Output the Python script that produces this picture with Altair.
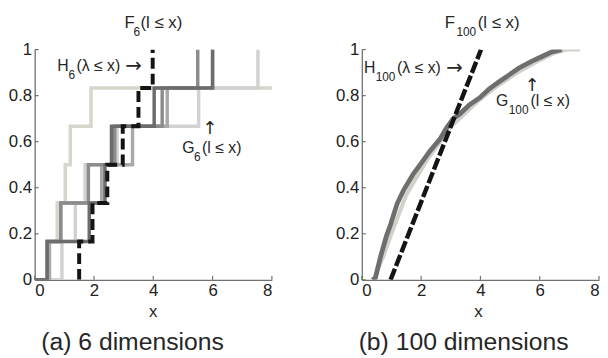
import altair as alt
import pandas as pd

FONT = "Liberation Sans"
ARROW_FONT = "DejaVu Sans"
W, H = 240, 233
TXT = "#262626"

# ---------------- data: panel (a), 6 dimensions ----------------
# x positions where each empirical CDF steps up (levels 1/6 ... 1)
a_order = ["beige", "light", "grayB", "grayA", "dark"]
a_steps = {
    "beige": [0.45, 0.76, 1.03, 1.20, 1.90, 9.00],
    "light": [0.92, 1.37, 1.70, 2.78, 5.53, 7.53],
    "grayB": [0.50, 0.88, 2.26, 3.30, 4.47, 6.00],
    "grayA": [0.42, 0.88, 1.81, 2.70, 4.30, 5.50],
    "dark":  [0.42, 1.84, 2.37, 2.59, 4.03, 6.00],
}
a_colors = {
    "beige": "#d8d5cd",
    "light": "#d2d2d2",
    "grayB": "#a9a9a9",
    "grayA": "#8c8c8c",
    "dark":  "#6c6c6c",
}
h6_steps = [1.50, 1.95, 2.45, 2.97, 3.50, 3.98]

# ---------------- data: panel (b), 100 dimensions ----------------
g100_dark_x = [0.36, 0.46, 0.63, 0.83, 0.97, 1.19, 1.41, 1.74, 1.97, 2.30, 2.63, 2.86,
               3.08, 3.30, 3.63, 3.97, 4.30, 4.63, 4.97, 5.30, 5.74, 6.08, 6.41, 6.74]
g100_dark_y = [0.00, 0.01, 0.10, 0.19, 0.24, 0.33, 0.39, 0.46, 0.50, 0.56, 0.61, 0.66,
               0.70, 0.72, 0.76, 0.79, 0.83, 0.86, 0.89, 0.92, 0.95, 0.97, 0.99, 1.00]
g100_light_x = [0.40, 0.72, 0.97, 1.50, 2.20, 3.00, 3.95, 4.55, 5.25, 5.95, 6.50, 6.90, 7.36]
g100_light_y = [0.00, 0.10, 0.19, 0.37, 0.52, 0.665, 0.78, 0.84, 0.90, 0.95, 0.985, 1.00, 1.00]
h100_x = [0.97, 4.02]
h100_y = [0.00, 1.00]

x_ticks = [0, 2, 4, 6, 8]
y_ticks = [0, 0.2, 0.4, 0.6, 0.8, 1]

# ---------------- helpers ----------------
xscale = alt.Scale(domain=[0, 8], nice=False, zero=False)
yscale = alt.Scale(domain=[0, 1], nice=False, zero=False)
xaxis = alt.Axis(title=None, values=x_ticks, format="d")
yaxis = alt.Axis(title=None, values=y_ticks, format=".1~f")


def X(field="x"):
    return alt.X(f"{field}:Q", scale=xscale, axis=xaxis)


def Y(field="y"):
    return alt.Y(f"{field}:Q", scale=yscale, axis=yaxis)


def step_df(xs, start_zero=True):
    n = len(xs)
    px = [0.0 if start_zero else xs[0]] + list(xs)
    py = [0.0] + [(i + 1) / n for i in range(n)]
    return pd.DataFrame({"x": px, "y": py, "i": list(range(len(px)))})


def rich_text(x, y, pieces):
    """pieces: (text, dx, dy, size, align, font) anchored at data point (x, y)."""
    df = pd.DataFrame({"x": [x], "y": [y]})
    out = []
    for t, dx, dy, size, align, font in pieces:
        out.append(
            alt.Chart(df).mark_text(font=font, fontSize=size, align=align, baseline="alphabetic",
                                    color=TXT, dx=dx, dy=dy).encode(
                x=X(), y=Y(), text=alt.value(t))
        )
    return out


def pixel_text(px, py, txt, size, align="center"):
    return alt.Chart(pd.DataFrame({"d": [0]})).mark_text(
        font=FONT, fontSize=size, align=align, baseline="alphabetic", color=TXT
    ).encode(x=alt.value(px), y=alt.value(py), text=alt.value(txt))


def tick_layers():
    tx = alt.Chart(pd.DataFrame({"v": x_ticks})).mark_rule(color="#707070", strokeWidth=1.2).encode(
        x=X("v"), y=alt.value(H), y2=alt.value(H - 4))
    ty = alt.Chart(pd.DataFrame({"v": y_ticks})).mark_rule(color="#707070", strokeWidth=1.2).encode(
        y=Y("v"), x=alt.value(0), x2=alt.value(4))
    return [tx, ty]


# ---------------- panel (a) ----------------
layers_a = []
for name in a_order:
    layers_a.append(
        alt.Chart(step_df(a_steps[name])).mark_line(
            interpolate="step-after", strokeWidth=3.5, color=a_colors[name], clip=True
        ).encode(x=X(), y=Y(), order="i:Q")
    )
layers_a.append(
    alt.Chart(step_df(h6_steps, start_zero=False)).mark_line(
        interpolate="step-after", strokeWidth=4, color="#141414", strokeDash=[11, 5], clip=True
    ).encode(x=X(), y=Y(), order="i:Q")
)
layers_a += tick_layers()
layers_a += rich_text(0.757, 0.907, [
    ("H", 0, 0, 16, "left", FONT),
    ("6", 11.5, 8, 12, "left", FONT),
    ("(λ ≤ x)", 19.5, 0, 16, "left", FONT),
    ("→", 69, 1, 20, "left", ARROW_FONT),
])
layers_a += rich_text(4.977, 0.55, [
    ("↑", 28, -19, 18, "center", ARROW_FONT),
    ("G", 0, 0, 16, "left", FONT),
    ("6", 12, 8, 12, "left", FONT),
    ("(l ≤ x)", 20, 0, 16, "left", FONT),
])
layers_a += [
    pixel_text(91, -21.7, "F", 17, "left"),
    pixel_text(100, -13.5, "6", 12, "left"),
    pixel_text(107, -21.7, "(l ≤ x)", 17, "left"),
    pixel_text(120, 271, "x", 17),
    pixel_text(99, 303.5, "(a) 6 dimensions", 25),
]
panel_a = alt.layer(*layers_a).properties(width=W, height=H)

# ---------------- panel (b) ----------------
layers_b = [
    alt.Chart(pd.DataFrame({"x": g100_light_x, "y": g100_light_y})).mark_line(
        strokeWidth=4, color="#d3d0ca", clip=True).encode(x=X(), y=Y()),
    alt.Chart(pd.DataFrame({"x": g100_dark_x, "y": g100_dark_y})).mark_line(
        strokeWidth=4.8, color="#6e6e6e", clip=True).encode(x=X(), y=Y()),
    alt.Chart(pd.DataFrame({"x": h100_x, "y": h100_y})).mark_line(
        strokeWidth=4.5, color="#141414", strokeDash=[12, 3], clip=True).encode(x=X(), y=Y()),
]
layers_b += tick_layers()
layers_b += rich_text(0.077, 0.90, [
    ("H", 0, 0, 16, "left", FONT),
    ("100", 11.7, 8, 12, "left", FONT),
    ("(λ ≤ x)", 33.4, 0, 16, "left", FONT),
    ("→", 83, 1, 20, "left", ARROW_FONT),
])
layers_b += rich_text(4.523, 0.757, [
    ("↑", 36.6, -15, 18, "center", ARROW_FONT),
    ("G", 0, 0, 16, "left", FONT),
    ("100", 13, 9, 12, "left", FONT),
    ("(l ≤ x)", 35, 0, 16, "left", FONT),
])
layers_b += [
    pixel_text(84, -21.7, "F", 17, "left"),
    pixel_text(95.7, -13.5, "100", 12, "left"),
    pixel_text(117.3, -21.7, "(l ≤ x)", 17, "left"),
    pixel_text(118, 271, "x", 17),
    pixel_text(103, 303.5, "(b) 100 dimensions", 25),
]
panel_b = alt.layer(*layers_b).properties(width=W, height=H)

chart = alt.hconcat(panel_a, panel_b, spacing=91, bounds="flush").properties(
    padding={"top": 4, "left": 0, "right": 0, "bottom": 0}
).configure_view(stroke=None).configure_axis(
    domainColor="#707070", domainWidth=1.3, ticks=False, grid=False,
    labelFont=FONT, labelFontSize=17, labelColor="#222222", labelPadding=3,
)

chart.save("out.html", embed_options={"renderer": "svg", "actions": False})
